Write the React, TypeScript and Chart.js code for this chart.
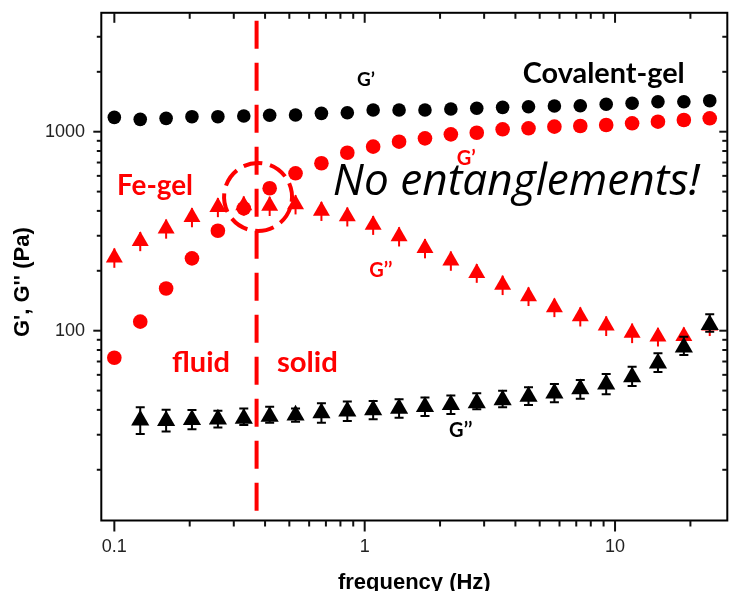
import React, { useEffect, useRef } from 'react';
import { Chart, registerables } from 'chart.js';

Chart.register(...registerables);

// ---- data ----
const frequencyHz = [0.1, 0.1269, 0.161, 0.2042, 0.2592, 0.3289, 0.4173, 0.5294, 0.6717, 0.8523, 1.081, 1.372, 1.741, 2.209, 2.803, 3.556, 4.512, 5.725, 7.264, 9.218, 11.7, 14.84, 18.83, 23.89];

const covalentGPrime = [1181, 1154, 1167, 1190, 1190, 1199, 1209, 1213, 1237, 1246, 1285, 1285, 1285, 1300, 1311, 1326, 1335, 1346, 1351, 1373, 1389, 1415, 1415, 1432];
const covalentGDouble = [null, 35.5, 35.3, 35.7, 35.9, 36.2, 37.1, 37.6, 38.6, 39.4, 39.9, 40.6, 41.5, 42.4, 43.3, 44.9, 46.7, 48.5, 50.9, 53.8, 58.5, 68.6, 82.5, 107];
const covalentGDoubleLow = [null, 30.3, 31.1, 32.0, 32.6, 33.6, 34.5, 34.9, 34.5, 35.2, 35.9, 36.5, 37.3, 38.1, 40.3, 41.2, 42.3, 43.7, 45.5, 47.9, 52.7, 62.0, 75.5, 98.9];
const covalentGDoubleHigh = [null, 41.2, 40.0, 39.9, 39.6, 40.7, 41.5, 40.6, 43.2, 44.1, 44.3, 45.2, 46.2, 47.2, 48.5, 49.9, 51.9, 54.0, 56.5, 60.6, 65.9, 77.0, 93.3, 121];

const feGPrime = [73.1, 111, 163, 231, 318, 412, 520, 618, 694, 784, 841, 891, 926, 970, 988, 1028, 1040, 1060, 1068, 1081, 1102, 1123, 1145, 1168];
const feGDouble = [233, 282, 326, 372, 418, 426, 424, 432, 400, 375, 340, 298, 260, 225, 195, 170, 149, 131, 118, 106, 97.6, 93.3, 93.8, 106];
const feGDoubleError = [26, 31, 36, 41, 46, 47, 47, 48, 44, 41, 37, 33, 29, 25, 21, 19, 16, 14, 13, 12, 11, 10, 10, 12];

const xMajorTicks = [0.1, 1, 10];
const xMinorTicks = [0.2, 0.3, 0.4, 0.5, 0.6, 0.7, 0.8, 0.9, 2, 3, 4, 5, 6, 7, 8, 9, 20];
const yMajorTicks = [100, 1000];
const yMinorTicks = [20, 30, 40, 50, 60, 70, 80, 90, 200, 300, 400, 500, 600, 700, 800, 900, 2000, 3000];

const transitionFrequency = 0.37;
const transitionSpan = [3612, 11.62];
const crossoverCircle = { x: 0.375, y: 470 };

const RED = '#ff0000';
const BLACK = '#000000';
const ANNOT_FAMILY = "Lato, 'Open Sans', sans-serif";

const annotations = [
  { text: 'Covalent-gel', x: 4.28, y: 1757, width: 162, color: BLACK, font: 'bold', family: ANNOT_FAMILY },
  { text: 'G\u2019', x: 0.931, y: 1697, size: 19, color: BLACK, font: 'bold', family: ANNOT_FAMILY },
  { text: 'G\u2019', x: 2.334, y: 680, size: 20, color: RED, font: 'bold', family: ANNOT_FAMILY },
  { text: 'Fe-gel', x: 0.1025, y: 483, width: 76, color: RED, font: 'bold', family: ANNOT_FAMILY },
  { text: 'No entanglements!', x: 0.746, y: 481, width: 367, color: BLACK, font: 'italic', family: "'Open Sans', sans-serif" },
  { text: 'G\u2019\u2019', x: 1.042, y: 185.5, size: 20, color: RED, font: 'bold', family: ANNOT_FAMILY },
  { text: 'fluid', x: 0.17, y: 62.2, width: 58, color: RED, font: 'bold', family: ANNOT_FAMILY },
  { text: 'solid', x: 0.446, y: 62.2, width: 61, color: RED, font: 'bold', family: ANNOT_FAMILY },
  { text: 'G\u2019\u2019', x: 2.174, y: 29.3, size: 20, color: BLACK, font: 'bold', family: ANNOT_FAMILY },
];

const toPoints = (ys: (number | null)[]) =>
  frequencyHz.map((f, i) => ({ x: f, y: ys[i] })).filter((p) => p.y !== null);

const errorBars: Record<string, { lo: (number | null)[]; hi: (number | null)[]; color: string; cap: number }> = {
  covG2: { lo: covalentGDoubleLow, hi: covalentGDoubleHigh, color: BLACK, cap: 9 },
  feG2: {
    lo: feGDouble.map((v, i) => v - feGDoubleError[i]),
    hi: feGDouble.map((v, i) => v + feGDoubleError[i]),
    color: RED,
    cap: 0,
  },
};

const errorBarPlugin = {
  id: 'errorBars',
  beforeDatasetDraw(chart: any, args: any) {
    const ds = chart.data.datasets[args.index];
    const eb = errorBars[ds.label];
    if (!eb) return;
    const { ctx, scales } = chart;
    ctx.save();
    ctx.strokeStyle = eb.color;
    ctx.lineWidth = 2;
    frequencyHz.forEach((f, i) => {
      const lo = eb.lo[i];
      const hi = eb.hi[i];
      if (lo == null || hi == null) return;
      const px = scales.x.getPixelForValue(f);
      const pLo = scales.y.getPixelForValue(lo);
      const pHi = scales.y.getPixelForValue(hi);
      ctx.beginPath();
      ctx.moveTo(px, pLo);
      ctx.lineTo(px, pHi);
      if (eb.cap > 0) {
        ctx.moveTo(px - eb.cap / 2, pLo);
        ctx.lineTo(px + eb.cap / 2, pLo);
        ctx.moveTo(px - eb.cap / 2, pHi);
        ctx.lineTo(px + eb.cap / 2, pHi);
      }
      ctx.stroke();
    });
    ctx.restore();
  },
};

const annotationPlugin = {
  id: 'annotations',
  afterDatasetsDraw(chart: any) {
    const { ctx, scales } = chart;
    ctx.save();
    ctx.setLineDash([19, 8]);
    ctx.lineWidth = 4;
    ctx.strokeStyle = RED;
    ctx.beginPath();
    ctx.arc(scales.x.getPixelForValue(crossoverCircle.x), scales.y.getPixelForValue(crossoverCircle.y), 34, 0.3, 0.3 + Math.PI * 2);
    ctx.stroke();
    ctx.setLineDash([]);
    ctx.textAlign = 'left';
    ctx.textBaseline = 'alphabetic';
    annotations.forEach((a: any) => {
      let size = a.size;
      if (!size) {
        ctx.font = `${a.font} 100px ${a.family}`;
        size = (100 * a.width) / ctx.measureText(a.text).width;
      }
      ctx.font = `${a.font} ${size}px ${a.family}`;
      ctx.fillStyle = a.color;
      ctx.fillText(a.text, scales.x.getPixelForValue(a.x), scales.y.getPixelForValue(a.y));
    });
    ctx.restore();
  },
};

const framePlugin = {
  id: 'frame',
  afterDraw(chart: any) {
    const { ctx, chartArea: a, scales } = chart;
    ctx.save();
    ctx.strokeStyle = BLACK;
    ctx.lineWidth = 2;
    ctx.strokeRect(a.left, a.top, a.right - a.left, a.bottom - a.top);
    ctx.strokeStyle = '#111';
    const seg = (x1: number, y1: number, x2: number, y2: number) => {
      ctx.beginPath();
      ctx.moveTo(x1, y1);
      ctx.lineTo(x2, y2);
      ctx.stroke();
    };
    xMajorTicks.forEach((v) => {
      const p = scales.x.getPixelForValue(v);
      seg(p, a.bottom, p, a.bottom + 11);
      seg(p, a.top, p, a.top + 10);
    });
    xMinorTicks.forEach((v) => {
      const p = scales.x.getPixelForValue(v);
      seg(p, a.bottom, p, a.bottom + 6);
      seg(p, a.top, p, a.top + 6);
    });
    yMajorTicks.forEach((v) => {
      const p = scales.y.getPixelForValue(v);
      seg(a.left - 8, p, a.left, p);
      seg(a.right - 8, p, a.right, p);
    });
    yMinorTicks.forEach((v) => {
      const p = scales.y.getPixelForValue(v);
      seg(a.left - 4.5, p, a.left, p);
      seg(a.right - 5, p, a.right, p);
    });
    ctx.fillStyle = BLACK;
    ctx.font = "bold 22px 'Liberation Sans', Arial, sans-serif";
    ctx.textAlign = 'center';
    ctx.textBaseline = 'alphabetic';
    ctx.fillText('frequency (Hz)', (a.left + a.right) / 2, chart.height - 1.7);
    ctx.translate(28.7, (a.top + a.bottom) / 2 + 15.5);
    ctx.rotate(-Math.PI / 2);
    ctx.fillText("G', G'' (Pa)", 0, 0);
    ctx.restore();
  },
};

const zeroPadding = (s: any) => {
  s.paddingTop = 0;
  s.paddingBottom = 0;
  s.paddingLeft = 0;
  s.paddingRight = 0;
};

export default function App() {
  const canvasRef = useRef<HTMLCanvasElement | null>(null);

  useEffect(() => {
    const canvas = canvasRef.current;
    if (!canvas) return;
    const tickFont = { family: "'Liberation Sans', Arial, sans-serif", size: 18 };
    const chart = new Chart(canvas, {
      type: 'scatter',
      data: {
        datasets: [
          {
            label: 'covG2',
            data: toPoints(covalentGDouble),
            pointStyle: 'triangle',
            pointRadius: 10.5,
            pointBackgroundColor: BLACK,
            pointBorderWidth: 0,
            showLine: false,
          },
          {
            label: 'feG2',
            data: toPoints(feGDouble),
            pointStyle: 'triangle',
            pointRadius: 9.8,
            pointBackgroundColor: RED,
            pointBorderWidth: 0,
            showLine: false,
          },
          {
            label: 'covG1',
            data: toPoints(covalentGPrime),
            pointStyle: 'circle',
            pointRadius: 6.8,
            pointBackgroundColor: BLACK,
            pointBorderWidth: 0,
            showLine: false,
          },
          {
            label: 'feG1',
            data: toPoints(feGPrime),
            pointStyle: 'circle',
            pointRadius: 7.3,
            pointBackgroundColor: RED,
            pointBorderWidth: 0,
            showLine: false,
          },
          {
            label: 'transition',
            data: transitionSpan.map((v) => ({ x: transitionFrequency, y: v })),
            showLine: true,
            borderColor: RED,
            borderWidth: 4,
            borderDash: [28, 14],
            pointRadius: 0,
            fill: false,
          },
        ],
      } as any,
      options: {
        animation: false,
        responsive: false,
        maintainAspectRatio: false,
        layout: { autoPadding: false, padding: { top: 12.8, right: 4.7, left: 0, bottom: 0 } },
        plugins: { legend: { display: false }, tooltip: { enabled: false } },
        scales: {
          x: {
            type: 'logarithmic',
            position: 'bottom',
            min: 0.0887,
            max: 28.08,
            bounds: 'data',
            grid: { display: false, drawTicks: false },
            border: { display: false },
            ticks: {
              padding: 15.6,
              font: tickFont,
              color: '#222',
              autoSkip: false,
              maxRotation: 0,
              callback: (v: any) => String(v),
            },
            afterBuildTicks: (s: any) => {
              s.ticks = xMajorTicks.map((v) => ({ value: v }));
            },
            afterFit: (s: any) => {
              s.height = 70.5;
              zeroPadding(s);
            },
          },
          y: {
            type: 'logarithmic',
            position: 'left',
            min: 11.12,
            max: 3959,
            bounds: 'data',
            grid: { display: false, drawTicks: false },
            border: { display: false },
            ticks: {
              padding: 16.3,
              font: tickFont,
              color: '#222',
              autoSkip: false,
              callback: (v: any) => String(v),
            },
            afterBuildTicks: (s: any) => {
              s.ticks = yMajorTicks.map((v) => ({ value: v }));
            },
            afterFit: (s: any) => {
              s.width = 101.3;
              zeroPadding(s);
            },
          },
        },
      } as any,
      plugins: [errorBarPlugin, annotationPlugin, framePlugin],
    });
    return () => chart.destroy();
  }, []);

  return (
    <div style={{ position: 'fixed', left: 0, top: 0, width: 732, height: 591, background: '#fff' }}>
      <canvas ref={canvasRef} width={732} height={591} style={{ width: 732, height: 591, display: 'block' }} />
    </div>
  );
}
